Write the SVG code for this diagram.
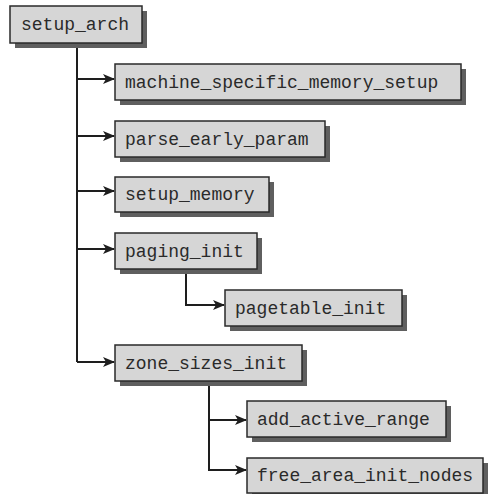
<svg xmlns="http://www.w3.org/2000/svg" width="489" height="494" viewBox="0 0 489 494">
<defs>
<style>
.sh{fill:#5f5f5f}
.bx{fill:#d6d6d6;stroke:#2a2a2a;stroke-width:1.5}
.tx{font-family:"Liberation Mono","Courier New",monospace;font-size:18px;fill:#2a2a2a}
.ln{fill:none;stroke:#1e1e1e;stroke-width:2}
</style>
<marker id="ah" viewBox="0 0 12 10" refX="11" refY="5" markerWidth="12" markerHeight="10" markerUnits="userSpaceOnUse" orient="auto">
<path d="M0,0 L12,5 L0,10 L3,5 z" fill="#1e1e1e"/>
</marker>
</defs>
<rect width="489" height="494" fill="#ffffff"/>
<g id="connectors">
<path class="ln" d="M77,43 V362"/>
<path class="ln" d="M77,79 H114" marker-end="url(#ah)"/>
<path class="ln" d="M77,136 H114" marker-end="url(#ah)"/>
<path class="ln" d="M77,191 H114" marker-end="url(#ah)"/>
<path class="ln" d="M77,249 H114" marker-end="url(#ah)"/>
<path class="ln" d="M77,362 H114" marker-end="url(#ah)"/>
<path class="ln" d="M186,269 V305 H224" marker-end="url(#ah)"/>
<path class="ln" d="M209,381 V470 H246" marker-end="url(#ah)"/>
<path class="ln" d="M209,420 H246" marker-end="url(#ah)"/>
</g>
<g id="setup_arch">
<rect class="sh" x="15" y="11" width="132" height="37"/>
<rect class="bx" x="10" y="6" width="132" height="37"/>
<text class="tx" x="21" y="30">setup_arch</text>
</g>
<g id="machine_specific_memory_setup">
<rect class="sh" x="120" y="69" width="346" height="36"/>
<rect class="bx" x="115" y="64" width="346" height="36"/>
<text class="tx" x="125" y="88">machine_specific_memory_setup</text>
</g>
<g id="parse_early_param">
<rect class="sh" x="120" y="126" width="210" height="36"/>
<rect class="bx" x="115" y="121" width="210" height="36"/>
<text class="tx" x="125" y="145">parse_early_param</text>
</g>
<g id="setup_memory">
<rect class="sh" x="120" y="182" width="154" height="35"/>
<rect class="bx" x="115" y="177" width="154" height="35"/>
<text class="tx" x="125" y="200">setup_memory</text>
</g>
<g id="paging_init">
<rect class="sh" x="120" y="238" width="142" height="36"/>
<rect class="bx" x="115" y="233" width="142" height="36"/>
<text class="tx" x="125" y="257">paging_init</text>
</g>
<g id="pagetable_init">
<rect class="sh" x="230" y="295" width="177" height="36"/>
<rect class="bx" x="225" y="290" width="177" height="36"/>
<text class="tx" x="235" y="314">pagetable_init</text>
</g>
<g id="zone_sizes_init">
<rect class="sh" x="120" y="350" width="187" height="36"/>
<rect class="bx" x="115" y="345" width="187" height="36"/>
<text class="tx" x="125" y="369">zone_sizes_init</text>
</g>
<g id="add_active_range">
<rect class="sh" x="252" y="406" width="199" height="36"/>
<rect class="bx" x="247" y="401" width="199" height="36"/>
<text class="tx" x="257" y="425">add_active_range</text>
</g>
<g id="free_area_init_nodes">
<rect class="sh" x="252" y="463" width="236" height="35"/>
<rect class="bx" x="247" y="458" width="236" height="35"/>
<text class="tx" x="257" y="481">free_area_init_nodes</text>
</g>
</svg>
